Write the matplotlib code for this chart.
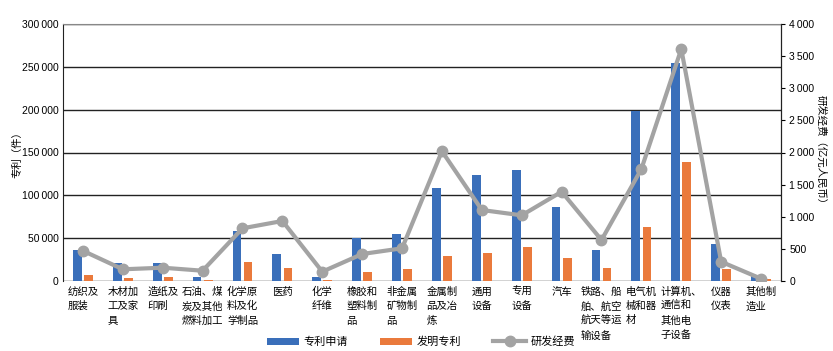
import numpy as np
import matplotlib.pyplot as plt
from matplotlib.ticker import FuncFormatter

plt.rcParams['font.family'] = ['Liberation Sans', 'Noto Sans CJK SC', 'DejaVu Sans']

categories = ["纺织及\n服装", "木材加\n工及家\n具", "造纸及\n印刷", "石油、煤\n炭及其他\n燃料加工",
              "化学原\n料及化\n学制品", "医药", "化学\n纤维", "橡胶和\n塑料制\n品", "非金属\n矿物制\n品",
              "金属制\n品及冶\n炼", "通用\n设备", "专用\n设备", "汽车", "铁路、船\n舶、航空\n航天等运\n输设备",
              "电气机\n械和器\n材", "计算机、\n通信和\n其他电\n子设备", "仪器\n仪表", "其他制\n造业"]
applications = [36000, 21000, 21000, 4300, 58000, 31000, 4300, 50500, 55000,
                108000, 124000, 130000, 86000, 36000, 198000, 254800, 42800, 5800]
inventions = [7000, 3000, 4300, 1500, 22500, 15000, 1000, 11000, 14000,
              29000, 32700, 39700, 26800, 15000, 63000, 138500, 14000, 2000]
rd_spending = [470, 182, 207, 160, 820, 934, 145, 420, 509,
               2020, 1105, 1022, 1390, 638, 1743, 3610, 300, 36]

blue = '#3a6fba'
orange = '#ea7a3c'
gray = '#a3a3a3'

def spaced(v, pos):
    return f"{int(v):,}".replace(",", "\u2009")

fig = plt.figure(figsize=(8.33, 3.51), dpi=100)
ax = fig.add_axes([63 / 833, 1 - 281 / 351, 718 / 833, 257 / 351])
x = np.arange(len(categories))
ax.bar(x - 0.14, applications, 0.22, color=blue, label='专利申请', zorder=3)
ax.bar(x + 0.14, inventions, 0.22, color=orange, label='发明专利', zorder=3)
ax.set_xlim(-0.5, len(categories) - 0.5)
ax.set_ylim(0, 300000)
ax.set_yticks(np.arange(0, 300001, 50000))
ax.yaxis.set_major_formatter(FuncFormatter(spaced))
ax.grid(axis='y', color='#222222', linewidth=1.0, zorder=0)
ax.set_xticks(x)
ax.set_xticklabels(categories, fontsize=7.5, multialignment='left', linespacing=1.55, va='top')
ax.tick_params(axis='x', length=0, pad=4)
ax.tick_params(axis='y', length=0, labelsize=7.5, pad=3)
ax.spines['bottom'].set_visible(False)
ax.spines['top'].set_color('#888888')
ax.spines['left'].set_color('#222222')
ax.set_ylabel('专利（件）', fontsize=7.5, labelpad=0)

ax2 = ax.twinx()
ax2.plot(x, rd_spending, color=gray, linewidth=3, marker='o', markersize=7.5, label='研发经费', zorder=4)
ax2.set_ylim(0, 4000)
ax2.set_yticks(np.arange(0, 4001, 500))
ax2.yaxis.set_major_formatter(FuncFormatter(spaced))
ax2.tick_params(axis='y', length=3, labelsize=7.5, pad=3)
for s in ['top', 'bottom', 'left']:
    ax2.spines[s].set_visible(False)
ax2.spines['right'].set_color('#222222')
ax2.set_ylabel('研发经费（亿元人民币）', fontsize=7.5, rotation=270, labelpad=8)

h1, l1 = ax.get_legend_handles_labels()
h2, l2 = ax2.get_legend_handles_labels()
fig.legend(h1 + h2, l1 + l2, loc='center', bbox_to_anchor=(0.505, 9 / 351),
           ncol=3, frameon=False, fontsize=8, handlelength=2.9, handletextpad=0.4,
           columnspacing=2.9)

fig.savefig('out.png', dpi=100)
